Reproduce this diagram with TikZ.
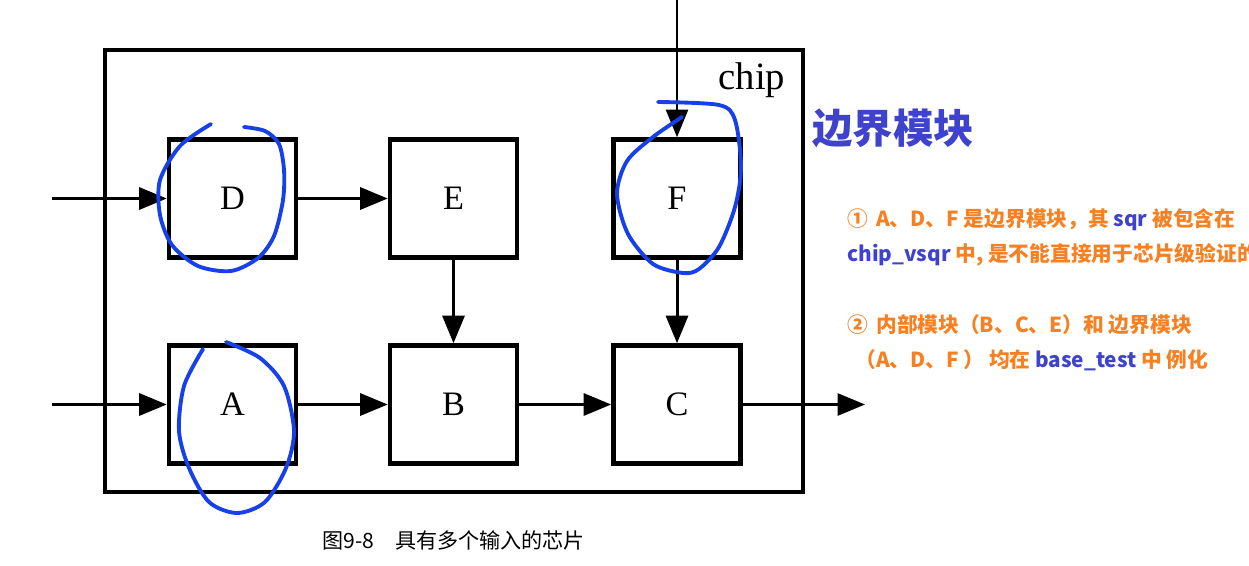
\documentclass[tikz,border=0pt]{standalone}
\usepackage{fontspec}
\setmainfont{Liberation Serif}
\newfontfamily\cjk{Noto Sans CJK SC}
\usetikzlibrary{arrows.meta}
\definecolor{titleblue}{RGB}{62,66,204}
\definecolor{noteorange}{RGB}{246,128,34}
\definecolor{penblue}{RGB}{22,64,232}
\begin{document}
\begin{tikzpicture}[x=0.2mm, y=-0.2mm,
    blk/.style={draw, line width=2.6pt, minimum width=25.4mm, minimum height=23.6mm, inner sep=0pt, font=\fontsize{19.5}{19.5}\selectfont},
    arr/.style={line width=1.7pt, -{Triangle[length=5.5mm, width=4.4mm]}},
    pen/.style={draw=penblue, line width=2.2pt, line cap=round, line join=round},
    note/.style={anchor=west, inner sep=0pt, font=\cjk\bfseries\fontsize{11.8}{11.8}\selectfont, text=noteorange}]
    \useasboundingbox (0,0) rectangle (1249,565);

    \node[draw, line width=2.4pt, minimum width=139.6mm, minimum height=88.4mm] (chip) at (454,271) {};
    \node[font=\fontsize{22}{22}\selectfont] (chipname) at (752,80) {chip};

    \node[blk] (D) at (232.5,198.5) {D};
    \node[blk] (E) at (453.5,198.5) {E};
    \node[blk] (F) at (677,198.5) {F};
    \node[blk] (A) at (232.5,404.5) {A};
    \node[blk] (B) at (453.5,404.5) {B};
    \node[blk] (C) at (677,404.5) {C};

    \coordinate (inD) at (52,198.5);
    \coordinate (inA) at (52,404.5);
    \coordinate (srcF) at (677,0);
    \coordinate (out) at (865,404.5);

    \draw[arr] (inD) -- (D);
    \draw[arr] (D) -- (E);
    \draw[arr] (inA) -- (A);
    \draw[arr] (A) -- (B);
    \draw[arr] (B) -- (C);
    \draw[arr] (C) -- (out);
    \draw[arr] (E) -- (B);
    \draw[arr] (F) -- (C);
    \draw[arr, line width=1.3pt] (srcF) -- (F);

    \draw[pen] plot[smooth] coordinates {(211,124) (180,146) (160,180) (160,215) (172,245) (198,266) (231,271) (258,258) (274,236) (283,200) (284,170) (279,144) (265,131) (244,127)};
    \draw[pen] plot[smooth] coordinates {(226,342) (260,358) (284,386) (294,431) (286,468) (265,502) (237,513) (209,502) (189,468) (179,431) (184,386) (203,349)};
    \draw[pen] plot[smooth] coordinates {(658,102) (719,105) (735,120) (741,167) (735,207) (719,247) (699,269) (683,273) (653,264) (628,234) (617,194) (627,161) (653,137) (682,117)};

    \node[font=\cjk\bfseries\fontsize{23}{23}\selectfont, text=titleblue, anchor=west, inner sep=0pt] (title) at (812,128) {边界模块};
    \node[note] (note1) at (847,220) {①\, A、D、F 是边界模块，其 \textcolor{titleblue}{sqr} 被包含在};
    \node[note] (note2) at (847,255) {\textcolor{titleblue}{chip\_vsqr} 中, 是不能直接用于芯片级验证的};
    \node[note] (note3) at (847,325) {②\, 内部模块（B、C、E）和 边界模块};
    \node[note] (note4) at (855,360) {（A、D、F ） 均在 \textcolor{titleblue}{base\_test} 中 例化};

    \node[font=\cjk\fontsize{12}{12}\selectfont, anchor=west, inner sep=0pt] (caption) at (322,540) {图9-8\quad 具有多个输入的芯片};
\end{tikzpicture}
\end{document}
